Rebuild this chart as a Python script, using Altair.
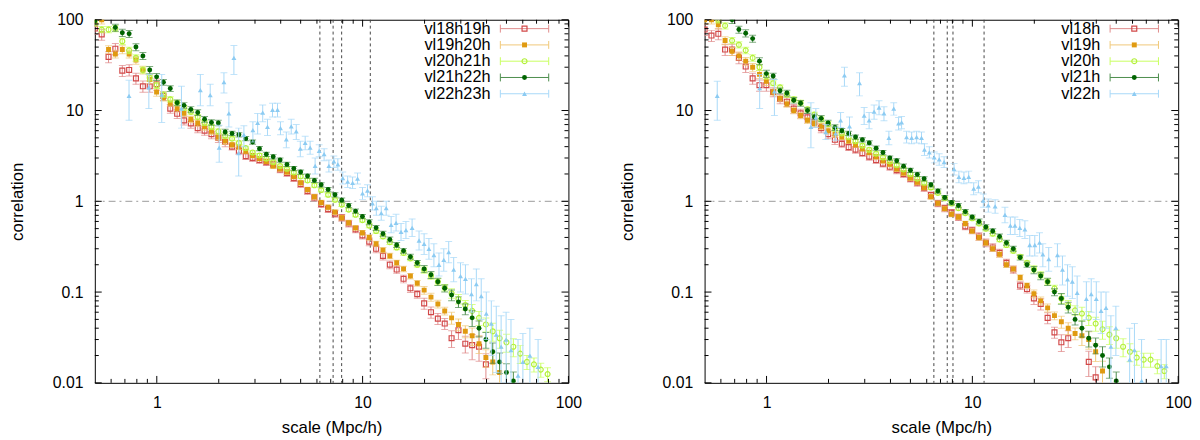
import altair as alt
import pandas as pd

FONT = "Liberation Sans"

# shared log-spaced scale grid (Mpc/h)
X_GRID = [0.500, 0.540, 0.583, 0.629, 0.680, 0.734, 0.792, 0.856, 0.924, 0.998,
          1.077, 1.163, 1.256, 1.356, 1.464, 1.581, 1.707, 1.843, 1.991, 2.149,
          2.321, 2.506, 2.706, 2.922, 3.155, 3.406, 3.678, 3.972, 4.289, 4.631,
          5.000, 5.400, 5.830, 6.290, 6.800, 7.340, 7.920, 8.560, 9.240, 9.980,
          10.77, 11.63, 12.56, 13.56, 14.64, 15.81, 17.07, 18.43, 19.91, 21.49,
          23.21, 25.06, 27.06, 29.22, 31.55, 34.06, 36.78, 39.72, 42.89, 46.31,
          50.00, 54.00, 58.30, 62.90, 68.00, 73.40, 79.20, 85.60, 92.40, 99.80]

# relative error profile along the grid
ERR = [0.10, 0.10, 0.10, 0.10, 0.10, 0.10, 0.10, 0.10, 0.10, 0.10,
       0.08, 0.08, 0.08, 0.08, 0.08, 0.08, 0.08, 0.08, 0.08, 0.08,
       0.06, 0.06, 0.06, 0.06, 0.06, 0.06, 0.06, 0.06, 0.06, 0.06,
       0.06, 0.06, 0.06, 0.06, 0.06, 0.06, 0.06, 0.06, 0.06, 0.06,
       0.07, 0.07, 0.07, 0.07, 0.07, 0.07, 0.07, 0.07, 0.10, 0.10,
       0.10, 0.10, 0.15, 0.15, 0.15, 0.22, 0.22, 0.22, 0.28, 0.28,
       0.28, 0.28, 0.28, 0.22, 0.22, 0.22, 0.22, 0.22, 0.22, 0.22]

# ---------------- left panel ----------------
NAMES_L = ["vl18h19h", "vl19h20h", "vl20h21h", "vl21h22h", "vl22h23h"]

RED_L = [80, 69, 39, 48, 27.5, 28, 22.6, 18.5, 18.5, 19.5,
         14.5, 10.5, 9.2, 7.8, 7.2, 6.4, 6.0, 5.5, 5.0, 4.5,
         4.0, 3.6, 3.15, 3.0, 2.85, 2.7, 2.55, 2.25, 2.05, 1.8,
         1.55, 1.3, 1.1, 0.93, 0.82, 0.73, 0.66, 0.57, 0.49, 0.42,
         0.36, 0.30, 0.25, 0.20, 0.177, 0.14, 0.11, 0.095, 0.075, 0.060,
         0.051, 0.045, 0.031, 0.038, 0.027, 0.026, 0.025, 0.016]
ORANGE_L = [97, 100, 47, 42, 47, 42, 36, 28, 22, 16,
            13.8, 12, 10.5, 9.3, 8.0, 7.3, 6.6, 5.9, 5.1, 4.6,
            4.2, 3.95, 3.55, 3.2, 2.95, 2.75, 2.45, 2.28, 2.1, 1.87,
            1.6, 1.35, 1.12, 0.97, 0.86, 0.76, 0.66, 0.58, 0.51, 0.45,
            0.40, 0.34, 0.29, 0.25, 0.21, 0.18, 0.15, 0.125, 0.105, 0.088,
            0.074, 0.062, 0.052, 0.044, 0.037, 0.033, 0.027, 0.019, 0.017, 0.013]
LGREEN_L = [92, 78, 78, 80, 58, 46, 38, 28, 23, 19,
            15, 13.3, 12.2, 10.7, 9.7, 8.5, 7.3, 6.6, 5.9, 5.3,
            4.9, 4.4, 3.85, 3.45, 3.2, 2.95, 2.7, 2.45, 2.28, 2.08,
            1.88, 1.7, 1.5, 1.33, 1.18, 1.04, 0.92, 0.81, 0.71, 0.62,
            0.54, 0.47, 0.41, 0.355, 0.31, 0.27, 0.235, 0.20, 0.175, 0.15,
            0.13, 0.112, 0.097, 0.084, 0.072, 0.062, 0.052, 0.044, 0.037, 0.031,
            0.028, 0.025, 0.021, 0.017, 0.016, 0.014, 0.0125]
DGREEN_L = [97, None, None, 82, 72, 70, 50, 40, 28, 23.5,
            20.5, 17.5, 12.2, 11.4, 10.3, 9.5, 8.0, 7.4, 7.3, 5.8,
            5.6, 5.4, 4.9, 4.5, 3.8, 3.3, 3.1, 2.85, 2.55, 2.3,
            2.1, 1.9, 1.7, 1.52, 1.35, 1.18, 1.03, 0.90, 0.78, 0.68,
            0.59, 0.51, 0.44, 0.38, 0.33, 0.285, 0.245, 0.21, 0.18, 0.155,
            0.13, 0.11, 0.093, 0.078, 0.065, 0.052, 0.040, 0.030, 0.022, 0.017,
            0.013, 0.0105]
BLUE_L_X = [0.733, 0.915, 1.057, 1.318, 1.628, 1.818, 2.01, 2.12, 2.24, 2.37,
            2.50, 2.65, 2.93, 3.09, 3.27, 3.45, 3.65, 3.86, 3.99, 4.26,
            4.50, 4.76, 4.98, 5.26, 5.56, 5.88, 6.15, 6.50, 6.86, 7.25,
            7.58, 8.01, 8.46, 8.94, 9.45, 9.99, 10.56, 11.16, 11.66, 12.32,
            13.02, 13.76, 14.54, 15.37, 16.24, 17.4, 18.8, 19.9, 21.0, 22.2,
            23.5, 24.8, 26.2, 27.7, 29.9, 31.6, 33.8, 35.7, 37.7, 39.9,
            42.2, 44.6, 47.1, 49.8, 52.6, 56.9, 60.1, 65.0, 71.2]
BLUE_L_Y = [14.5, 18.0, 15.0, 10.5, 16.8, 14.8, 3.9, 20.5, 9.3, 38,
            3.4, 5.4, 6.1, 7.3, 9.5, 6.6, 10.2, 10.2, 6.4, 4.8,
            6.7, 5.9, 3.8, 4.4, 3.9, 2.45, 3.6, 3.3, 2.45, 2.75,
            2.55, 1.8, 1.65, 1.6, 1.78, 1.22, 1.31, 0.95, 0.84, 0.74,
            0.84, 0.55, 0.58, 0.46, 0.48, 0.51, 0.37, 0.34, 0.30, 0.256,
            0.20, 0.226, 0.276, 0.177, 0.15, 0.14, 0.095, 0.122, 0.09, 0.058,
            0.045, 0.034, 0.025, 0.030, 0.023, 0.012, 0.017, 0.020, 0.015]
BLUE_L_LO = [7.8, 10.5, 7.4, 6.4, 11.3, 11.3, 2.7, 15.6, 6.6, 25,
             1.9, 4.0, 4.5, 5.5, 7.5, 5.3, 8.5, 8.5, 5.4, 3.9,
             5.5, 4.8, 3.1, 3.7, 3.3, 2.0, 3.1, 2.8, 2.1, 2.35,
             2.2, 1.55, 1.42, 1.38, 1.55, 1.05, 1.12, 0.80, 0.70, 0.62,
             0.70, 0.45, 0.47, 0.37, 0.39, 0.41, 0.29, 0.26, 0.23, 0.19,
             0.15, 0.17, 0.21, 0.13, 0.10, 0.095, 0.06, 0.08, 0.05, 0.03,
             0.02, 0.013, 0.008, 0.010, 0.006, 0.004, 0.005, 0.007, 0.005]
BLUE_L_HI = [21.5, 25, 25, 18.5, 25, 19.5, 6.9, 26, 12.2, 52,
             6.4, 6.8, 7.5, 9.3, 11.5, 8.0, 12, 12, 7.5, 5.8,
             8.0, 7.0, 4.6, 5.2, 4.6, 3.0, 4.2, 3.8, 2.85, 3.15,
             2.95, 2.1, 1.9, 1.85, 2.05, 1.42, 1.52, 1.12, 1.0, 0.88,
             1.0, 0.68, 0.72, 0.57, 0.60, 0.64, 0.47, 0.44, 0.39, 0.34,
             0.27, 0.30, 0.36, 0.24, 0.21, 0.20, 0.14, 0.18, 0.14, 0.10,
             0.08, 0.07, 0.055, 0.06, 0.05, 0.03, 0.035, 0.04, 0.03]
VLINES_L = [6.2, 7.19, 7.91, 10.9]

# ---------------- right panel ----------------
NAMES_R = ["vl18h", "vl19h", "vl20h", "vl21h", "vl22h"]

RED_R = [78, 67, 70, 47, 47, 38, 30.5, 22.6, 19, 19,
         16, 13.4, 12.5, 10.5, 9.3, 8.4, 7.4, 6.4, 5.5, 4.76,
         4.3, 3.95, 3.7, 3.4, 3.1, 2.85, 2.6, 2.4, 2.2, 2.0,
         1.78, 1.6, 1.4, 1.17, 0.95, 0.84, 0.75, 0.67, 0.53, 0.48,
         0.41, 0.35, 0.31, 0.27, 0.21, 0.177, 0.118, 0.108, 0.085, 0.074,
         0.052, 0.036, 0.028, 0.031, None, None, 0.017, 0.0115]
ORANGE_R = [100, 100, 88, 59, 45, 40, 35, 30, 25, 21,
            16, 13.6, 11.8, 10, 8.8, 7.8, 7.2, 6.7, 6.0, 5.5,
            5.1, 4.6, 4.2, 3.8, 3.45, 3.1, 2.8, 2.56, 2.26, 2.05,
            1.8, 1.62, 1.42, 1.12, 0.95, 0.83, 0.72, 0.67, 0.57, 0.47,
            0.40, 0.35, 0.30, 0.26, 0.20, 0.18, 0.145, 0.118, 0.096, 0.080,
            0.067, 0.055, 0.047, 0.040, 0.035, 0.033, 0.030, 0.022, 0.0135]
LGREEN_R = [None, None, 100, 86, 59, 53, 46, 38, 30, 24,
            20, 18, 15, 13.3, 12.2, 10.3, 9.0, 8.0, 7.1, 6.3,
            5.6, 5.1, 4.6, 4.1, 3.7, 3.35, 3.05, 2.75, 2.5, 2.25,
            2.0, 1.78, 1.6, 1.42, 1.24, 1.08, 0.95, 0.84, 0.74, 0.65,
            0.57, 0.50, 0.44, 0.38, 0.33, 0.285, 0.245, 0.21, 0.18, 0.155,
            0.13, 0.11, 0.085, 0.072, 0.063, 0.058, 0.052, 0.045, 0.039, 0.034,
            0.031, 0.025, 0.022, 0.019, 0.018, 0.018, 0.0153, 0.0135]
DGREEN_R = [None, None, None, None, 100, 78, 71, 62, 35, 25.5,
            24, 16.5, 15.6, 13, 12, 10, 8.5, 8.2, 7.3, 6.5,
            6.0, 5.6, 5.1, 4.76, 4.4, 3.85, 3.45, 3.0, 2.8, 2.44,
            2.2, 1.98, 1.77, 1.52, 1.3, 1.1, 0.97, 0.90, 0.77, 0.67,
            0.60, 0.52, 0.47, 0.41, 0.35, 0.30, 0.24, 0.20, 0.175, 0.15,
            0.13, 0.10, 0.085, 0.068, 0.050, 0.040, 0.031, 0.026, 0.020, 0.015,
            0.0105]
BLUE_R_X = [0.576, 0.926, 1.092, 1.643, 1.736, 1.94, 2.165, 2.29, 2.39, 2.53,
            2.83, 2.98, 3.15, 3.33, 3.52, 3.72, 3.93, 4.15, 4.38, 4.53,
            4.79, 5.07, 5.36, 5.66, 5.85, 6.18, 6.53, 6.90, 7.29, 8.15,
            8.60, 9.10, 9.60, 10.15, 10.7, 11.3, 11.95, 12.9, 14.4, 15.3,
            16.1, 17.0, 18.0, 19.0, 20.1, 21.2, 22.0, 23.5, 25.9, 27.4,
            29.0, 30.6, 32.3, 35.8, 37.8, 40.0, 42.2, 44.6, 47.1, 49.8,
            58.1, 61.3, 66.4, 82.6, 87.5]
BLUE_R_Y = [14.5, 17.7, 16.3, 6.6, 8.4, 5.8, 5.6, 7.8, 24.4, 6.7,
            20, 8.8, 7.8, 9.7, 10.8, 9.3, 5.0, 10.5, 7.2, 7.4,
            5.1, 5.0, 5.1, 5.0, 3.7, 3.45, 3.05, 2.9, 2.7, 2.26,
            1.86, 1.81, 1.86, 1.38, 1.45, 1.02, 0.90, 0.88, 0.71, 0.54,
            0.54, 0.51, 0.49, 0.33, 0.33, 0.35, 0.26, 0.23, 0.256, 0.177,
            0.138, 0.13, 0.098, 0.084, 0.095, 0.084, 0.062, 0.067, 0.025, 0.040,
            0.018, 0.023, 0.0105, 0.0153, 0.0153]
BLUE_R_LO = [7.8, 10.5, 8.8, 3.9, 6.5, 4.8, 4.7, 6.5, 18.5, 5.2,
             14.5, 7.0, 6.3, 8.0, 9.0, 7.7, 4.2, 8.9, 6.1, 6.3,
             4.4, 4.3, 4.4, 4.3, 3.2, 3.0, 2.65, 2.5, 2.35, 1.95,
             1.6, 1.56, 1.6, 1.18, 1.24, 0.86, 0.76, 0.74, 0.58, 0.43,
             0.43, 0.41, 0.39, 0.25, 0.25, 0.27, 0.19, 0.17, 0.19, 0.12,
             0.09, 0.085, 0.06, 0.05, 0.06, 0.05, 0.035, 0.04, 0.008, 0.02,
             0.006, 0.008, 0.004, 0.007, 0.007]
BLUE_R_HI = [21, 25, 22, 12.2, 10.5, 7.0, 6.6, 9.5, 30, 8.5,
             26, 10.8, 9.5, 11.5, 12.8, 11.0, 5.9, 12.2, 8.4, 8.6,
             5.9, 5.8, 5.9, 5.8, 4.3, 4.0, 3.5, 3.35, 3.1, 2.6,
             2.15, 2.1, 2.15, 1.6, 1.68, 1.2, 1.06, 1.04, 0.86, 0.67,
             0.67, 0.63, 0.61, 0.42, 0.42, 0.45, 0.34, 0.31, 0.34, 0.25,
             0.20, 0.19, 0.15, 0.13, 0.14, 0.13, 0.10, 0.10, 0.055, 0.07,
             0.04, 0.045, 0.03, 0.03, 0.03]
VLINES_R = [6.5, 7.55, 8.05, 11.4]

# tick values of the frame
X_MAJOR = [1, 10, 100]
X_MINOR = [0.6, 0.7, 0.8, 0.9, 2, 3, 4, 5, 6, 7, 8, 9, 20, 30, 40, 50, 60, 70, 80, 90]
Y_MAJOR = [0.01, 0.1, 1, 10, 100]
Y_MINOR = [0.02, 0.03, 0.04, 0.05, 0.06, 0.07, 0.08, 0.09,
           0.2, 0.3, 0.4, 0.5, 0.6, 0.7, 0.8, 0.9,
           2, 3, 4, 5, 6, 7, 8, 9, 20, 30, 40, 50, 60, 70, 80, 90]

# styles: (marker colour, bar colour, shape, filled, error multiplier)
STYLES = [
    ("#d24848", "#e08a8a", "square", False, 1.4),
    ("#e09a10", "#f0c878", "square", True, 1.0),
    ("#b4f03c", "#c8ff60", "circle", False, 0.8),
    ("#006400", "#4a8c4a", "circle", True, 0.9),
    ("#8ccbf2", "#a8d8f8", "triangle-up", True, 1.0),
]

W, H = 480, 368
XS = alt.Scale(type="log", domain=[0.5, 100], nice=False)
YS = alt.Scale(type="log", domain=[0.01, 100], nice=False)
XAX = alt.Axis(values=X_MAJOR, format="~g", title="scale (Mpc/h)", ticks=False, tickSize=0,
               domain=False, grid=False, labelPadding=12, titlePadding=9, labelFontSize=16,
               titleFontSize=17, labelFont=FONT, titleFont=FONT, titleFontWeight="normal",
               labelColor="black", titleColor="black", labelFlush=False, labelOverlap=False)
YAX = alt.Axis(values=Y_MAJOR, format="~g", title="correlation", ticks=False, tickSize=0,
               domain=False, grid=False, labelPadding=12, titlePadding=26, labelFontSize=16,
               titleFontSize=17, labelFont=FONT, titleFont=FONT, titleFontWeight="normal",
               labelColor="black", titleColor="black", labelFlush=False, labelOverlap=False)


def X(f):
    return alt.X(f, type="quantitative", scale=XS, axis=XAX)


def Y(f):
    return alt.Y(f, type="quantitative", scale=YS, axis=YAX)


def grid_frame(values, mult):
    rows = []
    for i, v in enumerate(values):
        if v is None:
            continue
        e = ERR[i] * mult
        rows.append({"x": X_GRID[i], "y": v, "lo": v * (1 - e), "hi": v * (1 + e)})
    return pd.DataFrame(rows)


def blue_frame(xs, ys, lo, hi):
    return pd.DataFrame({"x": xs, "y": ys, "lo": lo, "hi": hi})


def series_layers(df, style):
    mc, bc, shape, filled, _ = style
    base = alt.Chart(df)
    bar = base.mark_rule(color=bc, strokeWidth=1, clip=True).encode(
        x=X("x"), y=Y("lo"), y2=alt.Y2("hi"))
    cap_lo = base.mark_tick(orient="horizontal", color=bc, size=7, thickness=1, clip=True).encode(
        x=X("x"), y=Y("lo"))
    cap_hi = base.mark_tick(orient="horizontal", color=bc, size=7, thickness=1, clip=True).encode(
        x=X("x"), y=Y("hi"))
    pts = base.mark_point(shape=shape, filled=filled, color=mc, size=25, strokeWidth=1.2,
                          opacity=1, clip=True).encode(x=X("x"), y=Y("y"))
    return [bar, cap_lo, cap_hi, pts]


def frame_ticks():
    layers = []
    one = pd.DataFrame({"t": X_MAJOR})
    few = pd.DataFrame({"t": X_MINOR})
    for data, ln in ((one, 7), (few, 4)):
        layers.append(alt.Chart(data).mark_rule(color="black", strokeWidth=1).encode(
            x=X("t"), y=alt.value(H), y2=alt.value(H - ln)))
        layers.append(alt.Chart(data).mark_rule(color="black", strokeWidth=1).encode(
            x=X("t"), y=alt.value(0), y2=alt.value(ln)))
    oney = pd.DataFrame({"t": Y_MAJOR})
    fewy = pd.DataFrame({"t": Y_MINOR})
    for data, ln in ((oney, 7), (fewy, 4)):
        layers.append(alt.Chart(data).mark_rule(color="black", strokeWidth=1).encode(
            y=Y("t"), x=alt.value(0), x2=alt.value(ln)))
        layers.append(alt.Chart(data).mark_rule(color="black", strokeWidth=1).encode(
            y=Y("t"), x=alt.value(W), x2=alt.value(W - ln)))
    return layers


def legend_layers(names):
    layers = []
    row_y = [9, 25.5, 42, 58.5, 75]
    for name, style, yy in zip(names, STYLES, row_y):
        mc, bc, shape, filled, _ = style
        d = pd.DataFrame({"label": [name]})
        layers.append(alt.Chart(d).mark_text(align="right", baseline="middle", fontSize=16.5,
                                             font=FONT, color="black").encode(
            x=alt.value(401), y=alt.value(yy), text="label:N"))
        layers.append(alt.Chart(d).mark_rule(color=bc, strokeWidth=1).encode(
            x=alt.value(411), x2=alt.value(460), y=alt.value(yy)))
        for cx in (411, 460):
            layers.append(alt.Chart(d).mark_rule(color=bc, strokeWidth=1).encode(
                x=alt.value(cx), y=alt.value(yy - 4), y2=alt.value(yy + 4)))
        layers.append(alt.Chart(d).mark_point(shape=shape, filled=filled, color=mc, size=25,
                                              strokeWidth=1.2, opacity=1).encode(
            x=alt.value(435.5), y=alt.value(yy)))
    return layers


def panel(names, grid_series, blue, vlines):
    layers = []
    layers.append(alt.Chart(pd.DataFrame({"v": vlines})).mark_rule(
        color="#444444", strokeWidth=1, strokeDash=[3, 3]).encode(x=X("v")))
    layers.append(alt.Chart(pd.DataFrame({"h": [1]})).mark_rule(
        color="#999999", strokeWidth=1, strokeDash=[7, 4, 2, 4]).encode(y=Y("h")))
    for values, style in zip(grid_series, STYLES[:4]):
        layers += series_layers(grid_frame(values, style[4]), style)
    layers += series_layers(blue_frame(*blue), STYLES[4])
    layers += frame_ticks()
    layers += legend_layers(names)
    return alt.layer(*layers).properties(width=W, height=H)


left = panel(NAMES_L, [RED_L, ORANGE_L, LGREEN_L, DGREEN_L],
             (BLUE_L_X, BLUE_L_Y, BLUE_L_LO, BLUE_L_HI), VLINES_L)
right = panel(NAMES_R, [RED_R, ORANGE_R, LGREEN_R, DGREEN_R],
              (BLUE_R_X, BLUE_R_Y, BLUE_R_LO, BLUE_R_HI), VLINES_R)

chart = alt.hconcat(left, right, spacing=36).properties(
    padding={"left": 0, "top": 0, "right": 0, "bottom": 0},
    background="white",
).configure_view(stroke="black", strokeWidth=1)

chart.save("out.html", embed_options={"renderer": "svg", "actions": False})
